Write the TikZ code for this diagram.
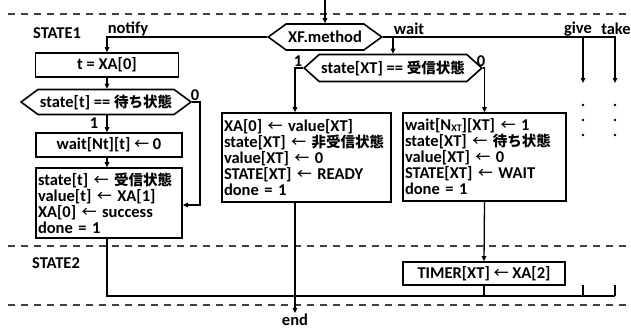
\documentclass[tikz,border=0pt]{standalone}
\usepackage{fontspec}
\setmainfont{Carlito}
\newfontfamily\jp{Noto Sans CJK JP}
\newfontfamily\jpm{Noto Sans CJK JP Medium}
\usetikzlibrary{arrows.meta,shapes.symbols}

\newcommand{\ja}[1]{{\jp\bfseries\fontsize{14.5}{16}\selectfont #1}}
\newcommand{\lar}{{\jpm\mdseries\fontsize{15}{16}\selectfont ←}}

\tikzset{
  box/.style={draw, line width=1.6pt, inner sep=2pt},
  listbox/.style={box, align=left},
  hexa/.style={draw, line width=1.6pt, signal, signal to=west and east, inner xsep=2pt, inner ysep=0pt},
  flow/.style={line width=1.3pt, -{Triangle[length=5pt,width=4.5pt]}},
  wire/.style={line width=1.3pt},
  lane/.style={line width=1.2pt, black!75, dash pattern=on 7pt off 6pt},
  tag/.style={inner sep=0pt}
}

\begin{document}
\begin{tikzpicture}[x=1pt, y=-1pt, font=\bfseries\fontsize{16.5}{16}\selectfont]
  \useasboundingbox (0,0) rectangle (631,329);

  % lanes
  \draw[lane] (8,14) -- (631,14);
  \draw[lane] (8,246) -- (631,246);
  \draw[lane] (8,305) -- (631,305);
  \node[tag] (s1) at (57,33) {STATE1};
  \node[tag] (s2) at (56,263) {STATE2};

  % method dispatch
  \coordinate (in) at (325,0);
  \node[hexa, signal pointer angle=72, minimum width=113pt, minimum height=26pt] (xf) at (325,37) {XF.method};

  % notify column
  \node[box, minimum width=143pt, minimum height=24pt] (tx) at (107,65) {t = XA[0]};
  \node[hexa, signal pointer angle=73, minimum width=165pt, minimum height=25pt] (chk) at (106,102) {state[t] == \ja{待ち状態}};
  \node[box, minimum width=146pt, minimum height=24pt] (wt) at (109,145) {wait[Nt][t] \lar{} 0};
  \node[listbox, text width=142pt, minimum height=70pt] (rcv) at (109,203)
    {state[t] \lar{} \ja{受信状態}\\value[t] \lar{} XA[1]\\XA[0] \lar{} success\\done = 1};
  \coordinate (c0) at (200,205);

  % wait column
  \node[hexa, signal pointer angle=84, minimum width=170pt, minimum height=27pt] (chx) at (393,68) {state[XT] == \ja{受信状態}};
  \node[listbox, text width=165pt, minimum height=89pt] (rdy) at (306.5,157.5)
    {XA[0] \lar{} value[XT]\\state[XT] \lar{} \ja{非受信状態}\\value[XT] \lar{} 0\\STATE[XT] \lar{} READY\\done = 1};
  \node[listbox, text width=159pt, minimum height=88pt] (wtx) at (484.5,157)
    {wait[N\raisebox{-1pt}{\fontsize{10}{10}\selectfont XT}][XT] \lar{} 1\\state[XT] \lar{} \ja{待ち状態}\\value[XT] \lar{} 0\\STATE[XT] \lar{} WAIT\\done = 1};
  \node[box, minimum width=162pt, minimum height=23pt] (tmr) at (484,273.5) {TIMER[XT] \lar{} XA[2]};
  \node[tag] (end) at (295,320) {end};

  % give / take
  \coordinate (give) at (583,83);
  \coordinate (take) at (615,83);
  \coordinate (give2) at (583,285);
  \coordinate (take2) at (615,285);
  \coordinate (back) at (615,296);
  \foreach \x in {583,615}
    \foreach \y in {105,120,135}
      \fill (\x,\y) circle[radius=1.3pt];

  % connectors
  \draw[flow] (in) -- (xf.north);
  \draw[flow] (xf.west) -| (tx.north);
  \draw[flow] (tx.south) -- (tx.south |- chk.north);
  \draw[flow] (tx.south |- chk.south) -- (tx.south |- wt.north);
  \draw[flow] (tx.south |- wt.south) -- (tx.south |- rcv.north);
  \draw[flow] (chk.east) -| (c0) -- (rcv.east |- c0);
  \draw[flow] (xf.east) -| (take);
  \draw[flow] (xf.east -| give) -- (give);
  \draw[flow] (xf.east -| chx.north) -- (chx.north);
  \draw[flow] (chx.west) -| ([xshift=-11.5pt]rdy.north);
  \draw[flow] (chx.east) -| (wtx.north);
  \draw[flow] ([xshift=-11.5pt]rdy.south) -- ([yshift=1pt]end.north);
  \draw[flow] (wtx.south) -- (tmr.north);
  \draw[wire] (tx.south |- rcv.south) |- (back);
  \draw[wire] (tmr.south) -- (tmr.south |- back);
  \draw[wire] (give2) -- (give2 |- back);
  \draw[wire] (take2) -- (back);

  % branch labels
  \node[tag] at (128,29) {notify};
  \node[tag] at (409,29) {wait};
  \node[tag] at (578,29) {give};
  \node[tag] at (616,29) {take};
  \node[tag] at (195,95) {0};
  \node[tag] at (94,123) {1};
  \node[tag] at (298,61) {1};
  \node[tag] at (481,61) {0};
\end{tikzpicture}
\end{document}
